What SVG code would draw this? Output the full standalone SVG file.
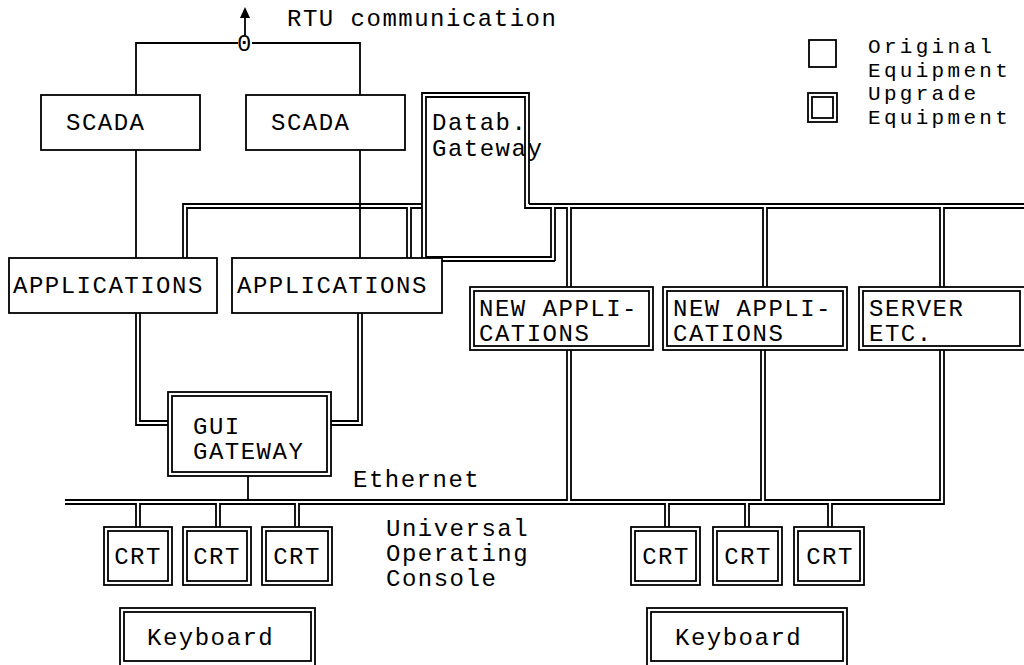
<svg xmlns="http://www.w3.org/2000/svg" width="1024" height="665" viewBox="0 0 1024 665">
  <style>
    .w { fill: none; stroke: #000; stroke-width: 1.8; }
    .box { fill: #fff; stroke: #000; stroke-width: 1.8; }
    .t { font-family: "Liberation Mono", "Courier New", monospace; font-size: 24px; letter-spacing: 1.5px; fill: #000; }
    .lg { font-size: 21px; letter-spacing: 3.3px; }
    .c { text-anchor: middle; }
  </style>
  <rect width="1024" height="665" fill="#fff"/>

  <!-- connectors: RTU link, buses and pipes -->
  <g id="connectors">
    <!-- RTU communication junction -->
    <line class="w" x1="245" y1="35" x2="245" y2="17"/>
    <path d="M240,18 L245,7 L250,18 Z" fill="#000"/>
    <path class="w" d="M136,95 V43 H238"/>
    <path class="w" d="M252,43 H360 V95"/>
    <!-- SCADA to APPLICATIONS -->
    <line class="w" x1="136" y1="150" x2="136" y2="258"/>
    <line class="w" x1="360" y1="150" x2="360" y2="258"/>
    <!-- upper bus, left part -->
    <path class="w" d="M183,258 V204 H422"/>
    <path class="w" d="M187,258 V208 H407 V258"/>
    <path class="w" d="M411,258 V208 H422"/>
    <!-- upper bus, right part -->
    <path class="w" d="M529,204 H1024"/>
    <path class="w" d="M555,261 V208 H567 V287"/>
    <path class="w" d="M571,287 V208 H763 V287"/>
    <path class="w" d="M767,287 V208 H940 V287"/>
    <path class="w" d="M944,287 V208 H1024"/>
    <!-- APPLICATIONS to GUI gateway -->
    <path class="w" d="M136,313 V425 H168"/>
    <path class="w" d="M140,313 V421 H168"/>
    <path class="w" d="M362,313 V425 H331"/>
    <path class="w" d="M358,313 V421 H331"/>
    <line class="w" x1="248" y1="476" x2="248" y2="500"/>
    <!-- lower bus (Ethernet) -->
    <path class="w" d="M65,500 H567 V350"/>
    <path class="w" d="M571,350 V500 H761 V350"/>
    <path class="w" d="M765,350 V500 H940 V350"/>
    <path class="w" d="M65,504 H136 V527"/>
    <path class="w" d="M140,527 V504 H216 V527"/>
    <path class="w" d="M220,527 V504 H295 V527"/>
    <path class="w" d="M299,527 V504 H665 V527"/>
    <path class="w" d="M669,527 V504 H745 V527"/>
    <path class="w" d="M749,527 V504 H828 V527"/>
    <path class="w" d="M832,527 V504 H944 V350"/>
  </g>

  <text class="t" x="287" y="26">RTU communication</text>
  <text class="t c" x="245" y="51">0</text>

  <!-- legend -->
  <g id="legend">
    <rect class="box" x="809" y="40" width="27" height="27"/>
    <rect class="box" x="808" y="93" width="29" height="29"/>
    <rect class="box" x="812" y="97" width="21" height="21"/>
    <text class="t lg" x="868" y="53">Original</text>
    <text class="t lg" x="868" y="76.5">Equipment</text>
    <text class="t lg" x="868" y="100">Upgrade</text>
    <text class="t lg" x="868" y="123.5">Equipment</text>
  </g>

  <g id="scada1">
    <rect class="box" x="41" y="95" width="159" height="55"/>
    <text class="t" x="66" y="130">SCADA</text>
  </g>
  <g id="scada2">
    <rect class="box" x="246" y="95" width="159" height="55"/>
    <text class="t" x="271" y="130">SCADA</text>
  </g>

  <g id="datab-gateway">
    <path class="w" d="M529,204 V93 H422 V261 H555"/>
    <path class="w" d="M525,208 V97 H426 V257 H551 V208 Z"/>
    <text class="t" x="432" y="130">Datab.</text>
    <text class="t" x="432" y="156">Gateway</text>
  </g>

  <g id="applications1">
    <rect class="box" x="9" y="258" width="208" height="55"/>
    <text class="t" x="13" y="293">APPLICATIONS</text>
  </g>
  <g id="applications2">
    <rect class="box" x="232" y="258" width="210" height="55"/>
    <text class="t" x="237" y="293">APPLICATIONS</text>
  </g>

  <g id="new-applications1">
    <rect class="box" x="470" y="287" width="183" height="63"/>
    <rect class="box" x="474" y="291" width="175" height="55"/>
    <text class="t" x="479" y="316">NEW APPLI-</text>
    <text class="t" x="479" y="341">CATIONS</text>
  </g>
  <g id="new-applications2">
    <rect class="box" x="663" y="287" width="184" height="63"/>
    <rect class="box" x="667" y="291" width="176" height="55"/>
    <text class="t" x="673" y="316">NEW APPLI-</text>
    <text class="t" x="673" y="341">CATIONS</text>
  </g>
  <g id="server">
    <rect class="box" x="859" y="287" width="170" height="63"/>
    <rect class="box" x="863" y="291" width="157" height="55"/>
    <text class="t" x="869" y="316">SERVER</text>
    <text class="t" x="869" y="341">ETC.</text>
  </g>

  <g id="gui-gateway">
    <rect class="box" x="168" y="392" width="163" height="84"/>
    <rect class="box" x="172" y="396" width="155" height="76"/>
    <text class="t" x="193" y="434">GUI</text>
    <text class="t" x="193" y="459">GATEWAY</text>
  </g>

  <text class="t" x="353" y="487">Ethernet</text>
  <g id="console-label">
    <text class="t" x="386" y="536">Universal</text>
    <text class="t" x="386" y="561">Operating</text>
    <text class="t" x="386" y="586">Console</text>
  </g>

  <g id="crt1">
    <rect class="box" x="104" y="527" width="68" height="58"/>
    <rect class="box" x="108" y="531" width="60" height="50"/>
    <text class="t c" x="138" y="564">CRT</text>
  </g>
  <g id="crt2">
    <rect class="box" x="183" y="527" width="68" height="58"/>
    <rect class="box" x="187" y="531" width="60" height="50"/>
    <text class="t c" x="217" y="564">CRT</text>
  </g>
  <g id="crt3">
    <rect class="box" x="262" y="527" width="70" height="58"/>
    <rect class="box" x="266" y="531" width="62" height="50"/>
    <text class="t c" x="297" y="564">CRT</text>
  </g>
  <g id="crt4">
    <rect class="box" x="631" y="527" width="69" height="58"/>
    <rect class="box" x="635" y="531" width="61" height="50"/>
    <text class="t c" x="666" y="564">CRT</text>
  </g>
  <g id="crt5">
    <rect class="box" x="713" y="527" width="69" height="58"/>
    <rect class="box" x="717" y="531" width="61" height="50"/>
    <text class="t c" x="748" y="564">CRT</text>
  </g>
  <g id="crt6">
    <rect class="box" x="794" y="527" width="70" height="58"/>
    <rect class="box" x="798" y="531" width="62" height="50"/>
    <text class="t c" x="830" y="564">CRT</text>
  </g>

  <g id="keyboard1">
    <rect class="box" x="120" y="608" width="195" height="58"/>
    <rect class="box" x="124" y="612" width="187" height="49"/>
    <text class="t" x="147" y="645">Keyboard</text>
  </g>
  <g id="keyboard2">
    <rect class="box" x="647" y="608" width="200" height="58"/>
    <rect class="box" x="651" y="612" width="192" height="49"/>
    <text class="t" x="675" y="645">Keyboard</text>
  </g>
</svg>
